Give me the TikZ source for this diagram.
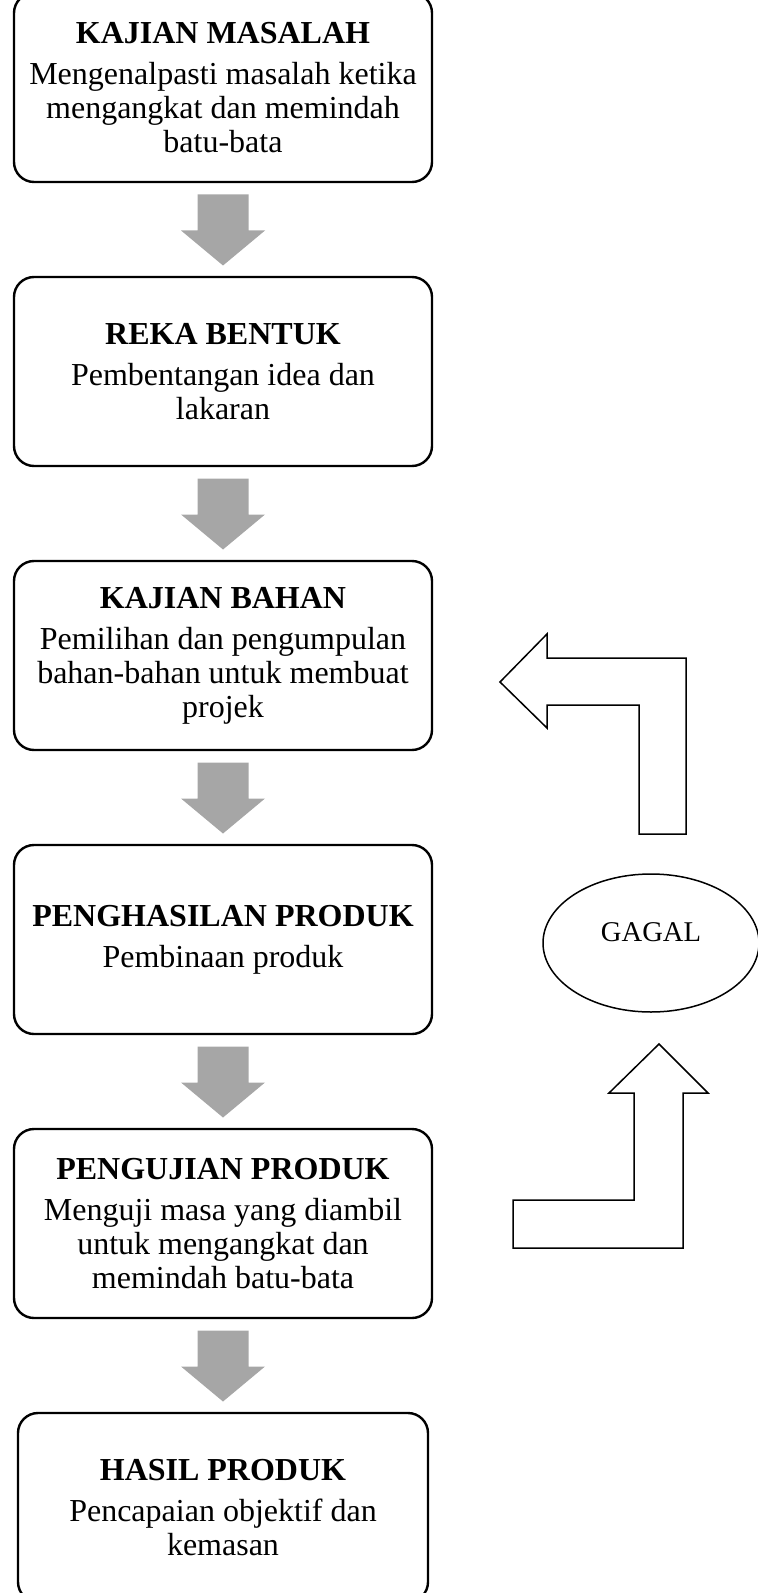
\documentclass[tikz,border=0pt]{standalone}
\usepackage{fontspec}
\setmainfont{Liberation Serif}
\usepackage{tikz}
\usetikzlibrary{shapes,positioning,calc}
\definecolor{arrowgray}{RGB}{166,166,166}
\tikzset{
  stepbox/.style={draw, line width=1.2pt, rounded corners=10pt, outer sep=0pt, inner sep=0pt,
    minimum width=209pt, minimum height=94.5pt, align=center, font=\fontsize{16}{17}\selectfont},
  bentarrow/.style={draw, line width=0.75pt, line join=miter},
}
% grey block arrow between two steps
\newcommand{\flowarrow}[2]{%
  \path ($(#1.south)!0.5!(#2.north)$) coordinate (mid);
  \fill[arrowgray] ($(mid)+(-25.5,-35)$) -- ($(mid)+(25.5,-35)$) -- ($(mid)+(25.5,1)$)
    -- ($(mid)+(42,1)$) -- ($(mid)+(0,36)$) -- ($(mid)+(-42,1)$) -- ($(mid)+(-25.5,1)$) -- cycle;}

\begin{document}
\begin{tikzpicture}[x=0.5pt, y=-0.5pt, node distance=47.5pt]
    \useasboundingbox (0,0) rectangle (758,1593);

    % Steps
    \node[stepbox] (masalah) at (223,87.5) {\textbf{KAJIAN MASALAH}\\[3.5pt]
        Mengenalpasti masalah ketika\\ mengangkat dan memindah\\ batu-bata};
    \node[stepbox, below=of masalah] (rekabentuk) {\textbf{REKA BENTUK}\\[3.5pt]
        Pembentangan idea dan\\ lakaran};
    \node[stepbox, below=of rekabentuk] (bahan) {\textbf{KAJIAN BAHAN}\\[3.5pt]
        Pemilihan dan pengumpulan\\ bahan-bahan untuk membuat\\ projek};
    \node[stepbox, below=of bahan] (penghasilan) {\textbf{PENGHASILAN PRODUK}\\[3.5pt]
        Pembinaan produk};
    \node[stepbox, below=of penghasilan] (pengujian) {\textbf{PENGUJIAN PRODUK}\\[3.5pt]
        Menguji masa yang diambil\\ untuk mengangkat dan\\ memindah batu-bata};
    \node[stepbox, below=of pengujian, minimum width=205pt] (hasil) {\textbf{HASIL PRODUK}\\[3.5pt]
        Pencapaian objektif dan\\ kemasan};

    % Arrows between steps
    \flowarrow{masalah}{rekabentuk}
    \flowarrow{rekabentuk}{bahan}
    \flowarrow{bahan}{penghasilan}
    \flowarrow{penghasilan}{pengujian}
    \flowarrow{pengujian}{hasil}

    % Failure loop
    \node[draw, ellipse, line width=0.75pt, minimum width=108pt, minimum height=69pt,
        text depth=11pt, font=\fontsize{14.3}{16}\selectfont] (gagal) at (651,943) {GAGAL};
    \draw[bentarrow] (500,682) -- (547,634) -- (547,658) -- (686,658) -- (686,834)
        -- (639,834) -- (639,705) -- (547,705) -- (547,728) -- cycle;
    \draw[bentarrow] (659,1044) -- (708,1093) -- (683,1093) -- (683,1248) -- (513,1248)
        -- (513,1200) -- (634,1200) -- (634,1093) -- (609,1093) -- cycle;
\end{tikzpicture}
\end{document}
